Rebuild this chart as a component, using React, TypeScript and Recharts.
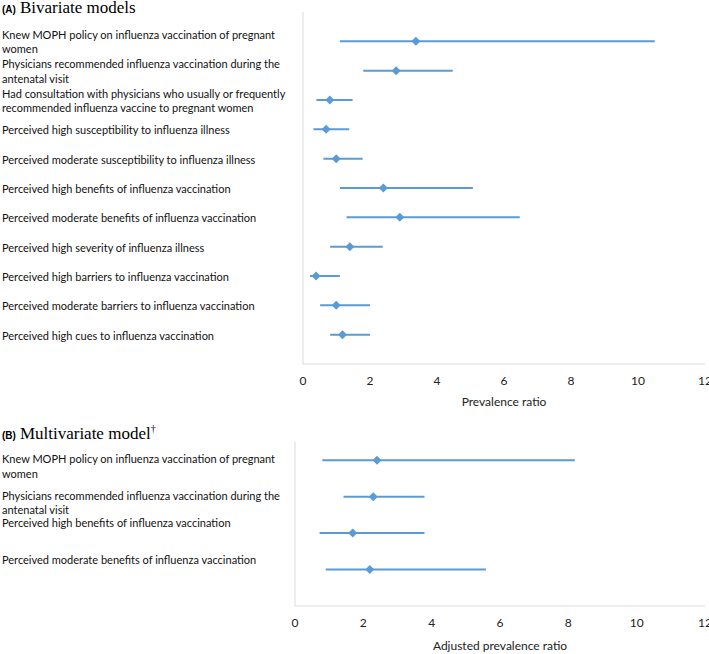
import { ErrorBar, Label, Scatter, ScatterChart, XAxis, YAxis } from 'recharts'

// panel A: bivariate models
const labelsA = [
  'Knew MOPH policy on influenza vaccination of pregnant\nwomen',
  'Physicians recommended influenza vaccination during the\nantenatal visit',
  'Had consultation with physicians who usually or frequently\nrecommended influenza vaccine to pregnant women',
  'Perceived high susceptibility to influenza illness',
  'Perceived moderate susceptibility to influenza illness',
  'Perceived high benefits of influenza vaccination',
  'Perceived moderate benefits of influenza vaccination',
  'Perceived high severity of influenza illness',
  'Perceived high barriers to influenza vaccination',
  'Perceived moderate barriers to influenza vaccination',
  'Perceived high cues to influenza vaccination',
]
const estA = [3.37, 2.78, 0.8, 0.69, 0.99, 2.4, 2.89, 1.4, 0.39, 0.99, 1.18]
const lowA = [1.1, 1.8, 0.4, 0.31, 0.61, 1.1, 1.3, 0.81, 0.21, 0.51, 0.81]
const highA = [10.5, 4.47, 1.48, 1.38, 1.78, 5.07, 6.47, 2.38, 1.1, 2.0, 2.0]

// panel B: multivariate model
const labelsB = [
  'Knew MOPH policy on influenza vaccination of pregnant\nwomen',
  'Physicians recommended influenza vaccination during the\nantenatal visit',
  'Perceived high benefits of influenza vaccination',
  'Perceived moderate benefits of influenza vaccination',
]
const estB = [2.4, 2.29, 1.69, 2.19]
const lowB = [0.8, 1.42, 0.72, 0.9]
const highB = [8.19, 3.79, 3.79, 5.59]

const xTicks = [0, 2, 4, 6, 8, 10, 12]

const BLUE = '#5B9BD5'
const GRID = '#d9d9d9'
const SANS = 'Lato, "Open Sans", sans-serif'

type Row = { row: number; est: number; lo: number; hi: number }

function buildRows(est: number[], lo: number[], hi: number[], offset: number): Row[] {
  return est.map((e, i) => ({ row: i + offset, est: e, lo: lo[i], hi: hi[i] }))
}

const Diamond = (props: any) => {
  const { cx, cy } = props
  const r = 4.5
  return <path d={`M${cx},${cy - r}L${cx + r},${cy}L${cx},${cy + r}L${cx - r},${cy}Z`} fill={BLUE} />
}

function rowTick(labels: string[], shift: (n: number) => number) {
  return (props: any) => {
    const lines = labels[props.index].split('\n')
    const y0 = props.y + shift(lines.length)
    return (
      <text x={2} y={y0} fontSize={11} fill="#111" fontFamily={SANS}>
        {lines.map((l, i) => (
          <tspan key={i} x={2} dy={i === 0 ? '0.35em' : 14.5}>
            {l}
          </tspan>
        ))}
      </text>
    )
  }
}

type PanelProps = {
  rows: Row[]
  labels: string[]
  yDomain: [number, number]
  yTicks: number[]
  height: number
  top: number
  left: number
  xLabel: string
  labelOffset: number
  shift: (n: number) => number
}

function ForestPanel({ rows, labels, yDomain, yTicks, height, top, left, xLabel, labelOffset, shift }: PanelProps) {
  return (
    <ScatterChart width={709} height={height} margin={{ top, right: 4, bottom: 0, left: 0 }}>
      <XAxis
        type="number"
        dataKey="est"
        domain={[0, 12]}
        ticks={xTicks}
        interval={0}
        height={48}
        axisLine={{ stroke: GRID }}
        tickLine={false}
        tickMargin={6}
        tick={{ fontSize: 12, fill: '#222', fontFamily: SANS }}
      >
        <Label value={xLabel} position="insideBottom" offset={labelOffset} fontSize={12} fill="#222" fontFamily={SANS} />
      </XAxis>
      <YAxis
        type="number"
        dataKey="row"
        domain={yDomain}
        ticks={yTicks}
        interval={0}
        reversed
        width={left}
        axisLine={{ stroke: GRID }}
        tickLine={false}
        tick={rowTick(labels, shift)}
      />
      <Scatter data={rows} shape={<Diamond />} isAnimationActive={false}>
        <ErrorBar
          dataKey={(d: Row) => [d.est - d.lo, d.hi - d.est]}
          direction="x"
          width={0}
          stroke={BLUE}
          strokeWidth={2}
        />
      </Scatter>
    </ScatterChart>
  )
}

const titleStyle = { fontFamily: '"Liberation Serif", "Times New Roman", serif', fontSize: 17 }
const tagStyle = { fontFamily: '"Liberation Sans", Arial, sans-serif', fontSize: 10, fontWeight: 700, marginRight: 4 }

export default function App() {
  const rowsA = buildRows(estA, lowA, highA, 1)
  const rowsB = buildRows(estB, lowB, highB, 0.5)
  return (
    <div style={{ position: 'absolute', left: 0, top: 0, width: 709, height: 654, background: '#fff' }}>
      <div style={{ position: 'absolute', left: 0, top: 0 }}>
        <ForestPanel
          rows={rowsA}
          labels={labelsA}
          yDomain={[0, 12]}
          yTicks={rowsA.map((r) => r.row)}
          height={412}
          top={12}
          left={303}
          xLabel="Prevalence ratio"
          labelOffset={6}
          shift={(n) => 1 - (n - 1) * 7.25}
        />
      </div>
      <div style={{ position: 'absolute', left: 0, top: 412 }}>
        <ForestPanel
          rows={rowsB}
          labels={labelsB}
          yDomain={[0, 4.5]}
          yTicks={rowsB.map((r) => r.row)}
          height={242}
          top={30}
          left={295}
          xLabel="Adjusted prevalence ratio"
          labelOffset={4}
          shift={(n) => (n === 1 ? -9.5 : -1)}
        />
      </div>
      <div style={{ position: 'absolute', left: 2, top: -1, lineHeight: '18px', whiteSpace: 'nowrap' }}>
        <span style={tagStyle}>(A)</span>
        <span style={titleStyle}>Bivariate models</span>
      </div>
      <div style={{ position: 'absolute', left: 2, top: 420, lineHeight: '18px', whiteSpace: 'nowrap' }}>
        <span style={tagStyle}>(B)</span>
        <span style={titleStyle}>
          Multivariate model<sup style={{ fontSize: 10 }}>†</sup>
        </span>
      </div>
    </div>
  )
}
